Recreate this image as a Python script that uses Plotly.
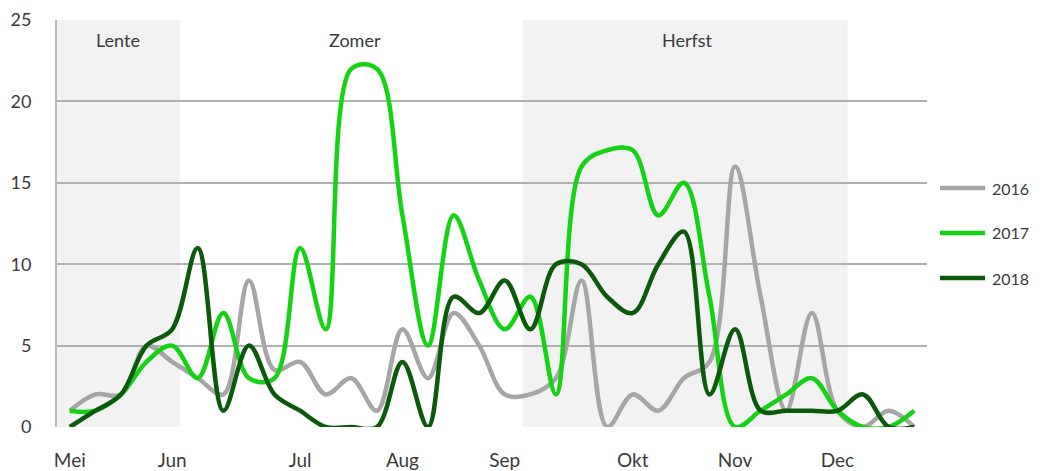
import plotly.graph_objects as go

# Weekly observations (34 weeks, May to December)
weeks = list(range(34))
month_labels = ["Mei", "Jun", "Jul", "Aug", "Sep", "Okt", "Nov", "Dec"]
month_weeks = [0, 4, 9, 13, 17, 22, 26, 30]

y2016 = [1, 2, 2, 5, 4, 3, 2, 9, 3.5, 4, 2, 3, 1, 6, 3, 7, 5, 2, 2, 3, 9, 0, 2, 1, 3, 4, 16, 8, 1, 7, 1, 0, 1, 0]
y2017 = [1, 1, 2, 4, 5, 3, 7, 3, 3, 11, 6, 22, 22, 13, 5, 13, 9, 6, 8, 2, 16, 17, 17, 13, 15, 8, 0, 1, 2, 3, 1, 0, 0, 1]
y2018 = [0, 1, 2, 5, 6, 11, 1, 5, 2, 1, 0, 0, 0, 4, 0, 8, 7, 9, 6, 10, 10, 8, 7, 10, 12, 2, 6, 1, 1, 1, 1, 2, 0, 0]

series_names = ["2016", "2017", "2018"]
series_values = [y2016, y2017, y2018]
series_colors = ["#a6a6a6", "#14d214", "#0b5a0b"]

# Seasons: label, start, end (in week units) and label position
season_names = ["Lente", "Zomer", "Herfst"]
season_start = [-0.5, 4.3, 17.7]
season_end = [4.3, 17.7, 30.4]
season_shaded = [True, False, True]
season_label_x = [1.9, 11.15, 24.15]

FONT = "Lato, 'Open Sans', sans-serif"
TXT = "#3a3a3a"

# plot-area geometry in pixels (used for the hand-drawn legend)
W, H = 1041, 471
L, R, T, B = 57, 114, 20, 44
pw, ph = W - L - R, H - T - B


def px_x(px):
    return (px - L) / pw


def px_y(py):
    return (H - B - py) / ph


fig = go.Figure()

for name, vals, col in zip(series_names, series_values, series_colors):
    fig.add_trace(go.Scatter(
        x=weeks, y=vals, name=name, mode="lines",
        line=dict(color=col, width=4.5, shape="spline", smoothing=1.0),
        showlegend=False, hoverinfo="skip",
    ))

shapes = []
annotations = []
for nm, s, e, sh, lx in zip(season_names, season_start, season_end, season_shaded, season_label_x):
    if sh:
        shapes.append(dict(type="rect", xref="x", yref="paper", x0=s, x1=e, y0=0, y1=1,
                           fillcolor="#f2f2f2", line=dict(width=0), layer="below"))
    annotations.append(dict(x=lx, y=23.8, xref="x", yref="y", text=nm, showarrow=False,
                            font=dict(family=FONT, size=18, color=TXT)))

# legend drawn by hand (longer line samples, wide spacing as in the reference)
legend_rows_px = [188, 233, 278]
for name, col, ry in zip(series_names, series_colors, legend_rows_px):
    shapes.append(dict(type="line", xref="paper", yref="paper",
                       x0=px_x(940), x1=px_x(985), y0=px_y(ry), y1=px_y(ry),
                       line=dict(color=col, width=4.5)))
    annotations.append(dict(x=px_x(990), y=px_y(ry), xref="paper", yref="paper", text=name,
                            showarrow=False, xanchor="left", yanchor="middle",
                            font=dict(family=FONT, size=16, color=TXT)))

fig.update_layout(
    width=W, height=H,
    margin=dict(l=L, r=R, t=T, b=B, autoexpand=False),
    paper_bgcolor="white", plot_bgcolor="white",
    shapes=shapes, annotations=annotations,
    showlegend=False,
    xaxis=dict(range=[-0.5, 33.5], tickmode="array", tickvals=month_weeks, ticktext=month_labels,
               showgrid=False, zeroline=False, showline=False, ticks="",
               ticklabelstandoff=20, automargin=False,
               tickfont=dict(family=FONT, size=19, color=TXT)),
    yaxis=dict(range=[0, 25], tickvals=[0, 5, 10, 15, 20, 25], showgrid=True,
               gridcolor="#b0b0b0", gridwidth=2, zeroline=False,
               showline=True, linecolor="#b8b8b8", linewidth=2,
               ticks="", ticklabelstandoff=20, automargin=False,
               tickfont=dict(family=FONT, size=18, color=TXT)),
)

fig.write_html("out.html", config={"displayModeBar": False},
               post_script="document.body.style.margin='0';")
